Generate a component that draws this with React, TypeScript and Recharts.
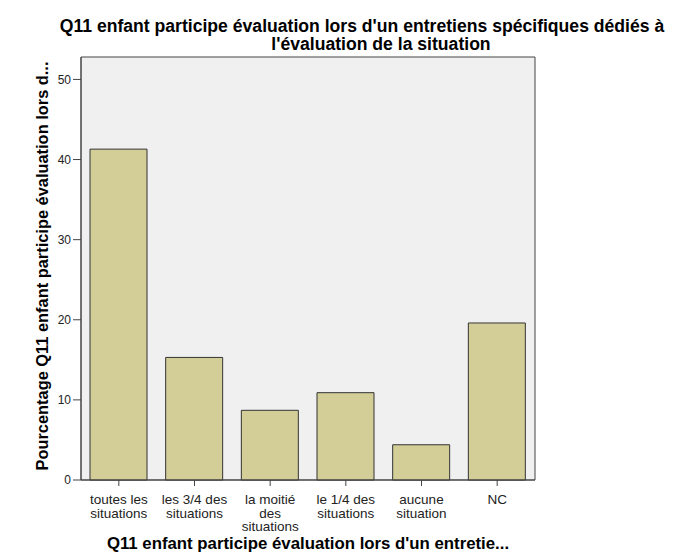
import { Bar, BarChart, CartesianGrid, ReferenceArea, XAxis, YAxis } from "recharts";

const categories = [
  "toutes les situations",
  "les 3/4 des situations",
  "la moitié des situations",
  "le 1/4 des situations",
  "aucune situation",
  "NC",
];
const categoryLines = [
  ["toutes les", "situations"],
  ["les 3/4 des", "situations"],
  ["la moitié", "des", "situations"],
  ["le 1/4 des", "situations"],
  ["aucune", "situation"],
  ["NC"],
];
const percentages = [41.3, 15.3, 8.7, 10.9, 4.4, 19.6];
const yTicks = [0, 10, 20, 30, 40, 50];
const yMax = 52.8;

const title = [
  "Q11 enfant participe évaluation lors d'un entretiens spécifiques dédiés à",
  "l'évaluation de la situation",
];
const yLabel = "Pourcentage Q11 enfant participe évaluation lors d...";
const xLabel = "Q11 enfant participe évaluation lors d'un entretie...";

const data = categories.map((name, i) => ({ name, value: percentages[i] }));

const FONT = "'Liberation Sans', Arial, sans-serif";
const AXIS = "#444";

function CategoryTick({ x, y, index }: any) {
  const lines = categoryLines[index] ?? [];
  return (
    <text
      x={x}
      y={y + 16}
      textAnchor="middle"
      fontFamily={FONT}
      fontSize={13.5}
      fill="#222"
    >
      {lines.map((line, i) => (
        <tspan key={i} x={x} dy={i === 0 ? 0 : 13.5}>
          {line}
        </tspan>
      ))}
    </text>
  );
}

export default function App() {
  return (
    <div style={{ position: "absolute", left: 0, top: 0, width: 697, height: 553, background: "#fff" }}>
      <BarChart
        width={697}
        height={553}
        data={data}
        margin={{ top: 57, right: 162, bottom: 0, left: 0 }}
      >
        <CartesianGrid horizontal={false} vertical={false} fill="#f0f0f0" />
        <XAxis
          dataKey="name"
          height={73}
          interval={0}
          tickSize={6}
          tickMargin={2}
          stroke={AXIS}
          tick={<CategoryTick />}
        />
        <YAxis
          width={81}
          domain={[0, yMax]}
          ticks={yTicks}
          tickSize={8}
          tickMargin={2}
          stroke={AXIS}
          tick={{ fill: "#222", fontSize: 12, fontFamily: FONT }}
        />
        <ReferenceArea y1={0} y2={yMax} fill="none" stroke={AXIS} strokeWidth={1} ifOverflow="visible" />
        <Bar
          dataKey="value"
          barSize={57}
          fill="#d3ce97"
          stroke="#333"
          strokeWidth={1}
          isAnimationActive={false}
        />
      </BarChart>
      <svg
        width={697}
        height={553}
        style={{ position: "absolute", left: 0, top: 0, pointerEvents: "none" }}
      >
        <text x={362} y={32} textAnchor="middle" fontFamily={FONT} fontWeight="bold" fontSize={17.6} fill="#000">
          {title[0]}
        </text>
        <text x={381} y={50} textAnchor="middle" fontFamily={FONT} fontWeight="bold" fontSize={17.6} fill="#000">
          {title[1]}
        </text>
        <text
          x={0}
          y={0}
          transform="translate(48, 266) rotate(-90)"
          textAnchor="middle"
          fontFamily={FONT}
          fontWeight="bold"
          fontSize={16.4}
          fill="#000"
        >
          {yLabel}
        </text>
        <text x={308} y={549} textAnchor="middle" fontFamily={FONT} fontWeight="bold" fontSize={16.8} fill="#000">
          {xLabel}
        </text>
      </svg>
    </div>
  );
}
